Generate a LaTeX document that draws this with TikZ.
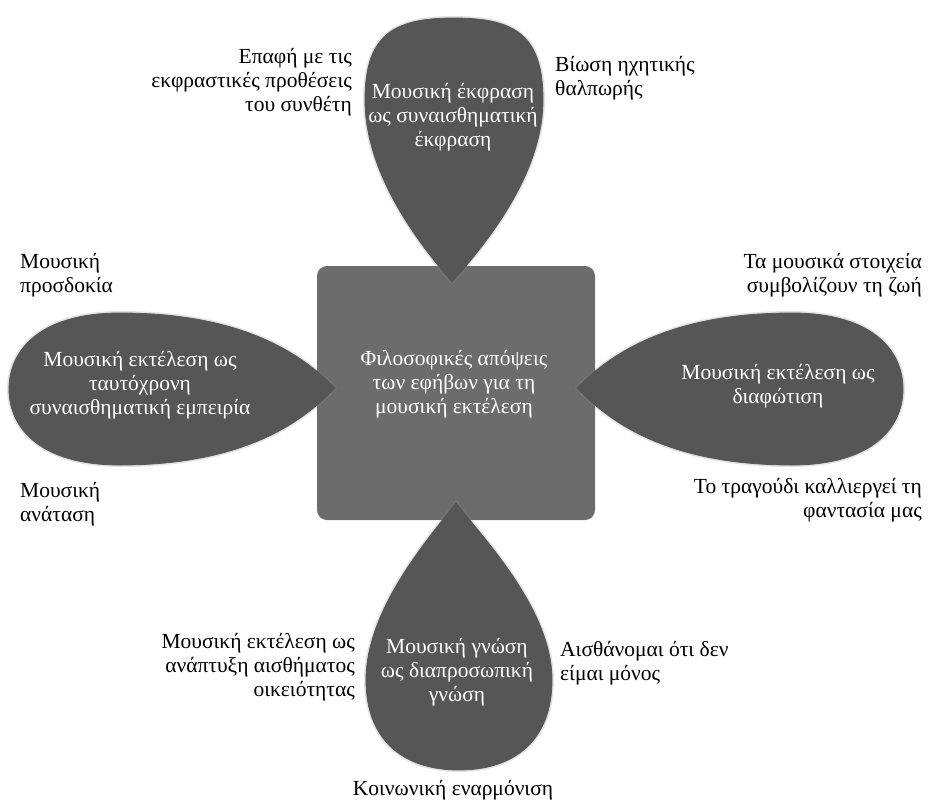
\documentclass[tikz,border=0pt]{standalone}
\usepackage{fontspec}
\setmainfont{Liberation Serif}
\definecolor{sqgray}{RGB}{108,108,108}
\definecolor{dropgray}{RGB}{86,86,86}
\tikzset{
  txt/.style={font=\fontsize{21.5}{23.8}\selectfont, inner sep=0pt},
  wtxt/.style={txt, text=white, align=center},
  drop/.style={fill=dropgray, draw=dropgray, line width=0.8pt},
  halo/.style={draw=black!45, line width=4pt, opacity=0.25},
}
\begin{document}
\begin{tikzpicture}[x=1pt,y=-1pt]
\useasboundingbox (0,0) rectangle (930,801);
% central square
\fill[sqgray, rounded corners=10pt] (317,266) rectangle (595,520);
% drop outlines
\def\topdrop{(452,282) .. controls (485,245) and (543,175) .. (543,100)
  .. controls (543,35) and (515,18) .. (454,18)
  .. controls (393,18) and (365,35) .. (365,100)
  .. controls (365,175) and (420,245) .. (452,282) -- cycle}
\def\botdrop{(456,503) .. controls (485,540) and (552,610) .. (552,680)
  .. controls (552,740) and (515,770) .. (459,770)
  .. controls (403,770) and (366,740) .. (366,680)
  .. controls (366,610) and (427,540) .. (456,503) -- cycle}
\def\leftdrop{(335,388) .. controls (300,352) and (240,313) .. (120,313)
  .. controls (40,313) and (9,350) .. (9,389)
  .. controls (9,428) and (40,465) .. (120,465)
  .. controls (240,465) and (300,425) .. (335,388) -- cycle}
\def\rightdrop{(577,388) .. controls (612,352) and (672,313) .. (792,313)
  .. controls (872,313) and (903,350) .. (903,389)
  .. controls (903,428) and (872,465) .. (792,465)
  .. controls (672,465) and (612,425) .. (577,388) -- cycle}
\path[halo] \topdrop;
\path[halo] \botdrop;
\path[halo] \leftdrop;
\path[halo] \rightdrop;
\path[drop] \topdrop;
\path[drop] \botdrop;
\path[drop] \leftdrop;
\path[drop] \rightdrop;
% texts in shapes
\node[wtxt] (center) at (454,384) {Φιλοσοφικές απόψεις\\των εφήβων για τη\\μουσική εκτέλεση};
\node[wtxt] (top) at (453,117) {Μουσική έκφραση\\ως συναισθηματική\\έκφραση};
\node[wtxt] (left) at (140,385) {Μουσική εκτέλεση ως\\ταυτόχρονη\\συναισθηματική εμπειρία};
\node[wtxt] (right) at (778,386) {Μουσική εκτέλεση ως\\διαφώτιση};
\node[wtxt] (bottom) at (457,672) {Μουσική γνώση\\ως διαπροσωπική\\γνώση};
% outer labels
\node[txt, align=right, anchor=east] (tl) at (352,82) {Επαφή με τις\\εκφραστικές προθέσεις\\του συνθέτη};
\node[txt, align=left, anchor=west] (tr) at (555,78) {Βίωση ηχητικής\\θαλπωρής};
\node[txt, align=left, anchor=west] (lt) at (20,275) {Μουσική\\προσδοκία};
\node[txt, align=left, anchor=west] (lb) at (20,504) {Μουσική\\ανάταση};
\node[txt, align=right, anchor=east] (rt) at (922,275) {Τα μουσικά στοιχεία\\συμβολίζουν τη ζωή};
\node[txt, align=right, anchor=east] (rb) at (922,500) {Το τραγούδι καλλιεργεί τη\\φαντασία μας};
\node[txt, align=right, anchor=east] (bl) at (355,667) {Μουσική εκτέλεση ως\\ανάπτυξη αισθήματος\\οικειότητας};
\node[txt, align=left, anchor=west] (br) at (560,663) {Αισθάνομαι ότι δεν\\είμαι μόνος};
\node[txt] (bb) at (453,790) {Κοινωνική εναρμόνιση};
\end{tikzpicture}
\end{document}
